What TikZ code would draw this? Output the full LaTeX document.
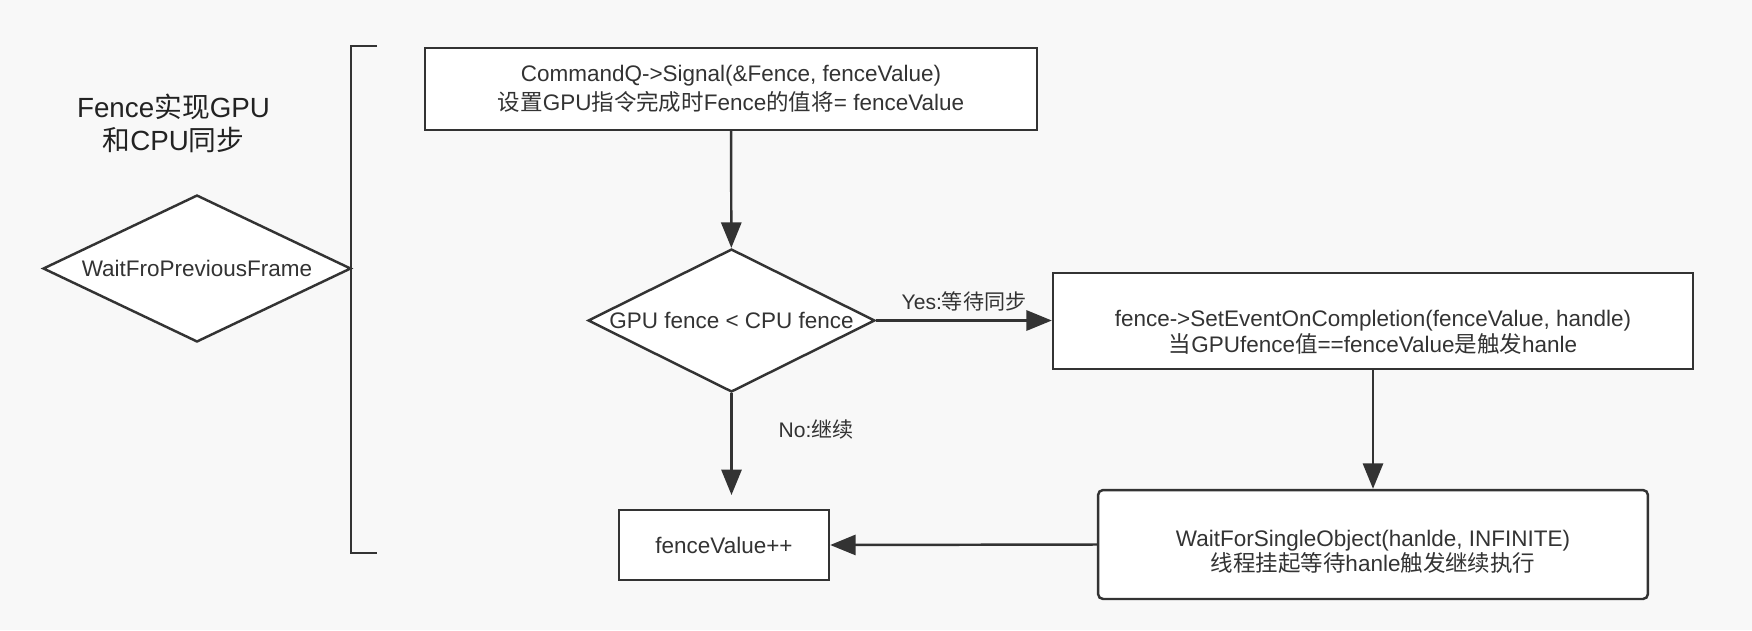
\documentclass[tikz,border=0pt]{standalone}
\usepackage{fontspec}
\setmainfont{Liberation Sans}
\newfontfamily\cjk{Noto Sans CJK SC}
\usetikzlibrary{shapes.geometric}
\usetikzlibrary{arrows.meta}
\definecolor{bgcol}{HTML}{F8F8F8}
\definecolor{linecol}{HTML}{333333}
\definecolor{titlecol}{HTML}{222222}
\newcommand{\zh}[1]{{\cjk #1}}
\tikzstyle{every node}=[font=\fontsize{12.8}{15.5}\selectfont,text=linecol]
\tikzstyle{every path}=[line width=1.4pt,line cap=butt,line join=miter]

\begin{document}
\begin{tikzpicture}[x=0.02cm,y=-0.02cm]
		\tikzstyle{arrow} = [-{Triangle[length=14.5pt, width=11.5pt]}]
		\tikzstyle{box} = [draw=linecol,fill=white,rectangle,align=center,inner sep=0pt]
		\tikzstyle{dia} = [draw=linecol,fill=white,diamond,align=center,inner sep=0pt]
		
		\useasboundingbox (0,0) rectangle (1752,630);
		\fill[bgcol] (0,0) rectangle (1752,630);
		
		% left part
		\node[align=center,text=titlecol,font=\fontsize{15.8}{18.8}\selectfont] (title) at (173.5,123.5) {Fence\zh{实现}GPU\\ \zh{和}CPU\zh{同步}};
		\node[dia,aspect=2.1,minimum width=6.16cm,minimum height=2.94cm] (wait) at (197,268.5) {WaitFroPreviousFrame};
		\draw[draw=linecol] (377,46) -- (351,46) -- (351,553) -- (377,553);
		
		% boxes
		\node[box,minimum width=12.24cm,minimum height=1.64cm,font=\fontsize{12.8}{16.5}\selectfont] (sig) at (731,89) {CommandQ->Signal(\&Fence, fenceValue)\\ \zh{设置}GPU\zh{指令完成时}Fence\zh{的值将}= fenceValue};
		\node[dia,aspect=2,minimum width=5.74cm,minimum height=2.86cm] (dec) at (731.5,320.5) {GPU fence < CPU fence};
		
		\node[box,minimum width=12.8cm,minimum height=1.92cm] (evtbox) at (1373,321) {};
		\node[align=center,font=\fontsize{12.8}{14.8}\selectfont] (evt) at (1373,332) {fence->SetEventOnCompletion(fenceValue, handle)\\ \zh{当}GPUfence\zh{值}==fenceValue\zh{是触发}hanle};
		
		\node[box,rounded corners=0.1cm,minimum width=11cm,minimum height=2.18cm] (wfsbox) at (1373,544.5) {};
		\node[align=center,font=\fontsize{12.8}{14.2}\selectfont] (wfs) at (1373,552) {WaitForSingleObject(hanlde, INFINITE)\\ \zh{线程挂起等待}hanle\zh{触发继续执行}};
		
		\node[box,minimum width=4.2cm,minimum height=1.4cm] (fv) at (724,545) {fenceValue++};
		\coordinate (noend) at (731.5,495);
		
		% connectors
		\draw[arrow,draw=linecol,fill=linecol] (sig) -- (dec);
		\draw[arrow,draw=linecol,fill=linecol] (dec.east) -- (evtbox.west |- dec.east) node[midway,above=1pt,font=\fontsize{12}{14}\selectfont] (yes) {Yes:\zh{等待同步}};
		\draw[arrow,draw=linecol,fill=linecol] (evtbox) -- (wfsbox);
		\draw[arrow,draw=linecol,fill=linecol] (wfsbox.west) -- (fv.east);
		\draw[arrow,draw=linecol,fill=linecol] (dec.south) -- (noend) node[pos=0.36,anchor=west,xshift=0.8cm,font=\fontsize{12}{14}\selectfont] (no) {No:\zh{继续}};
		
	\end{tikzpicture}
\end{document}
